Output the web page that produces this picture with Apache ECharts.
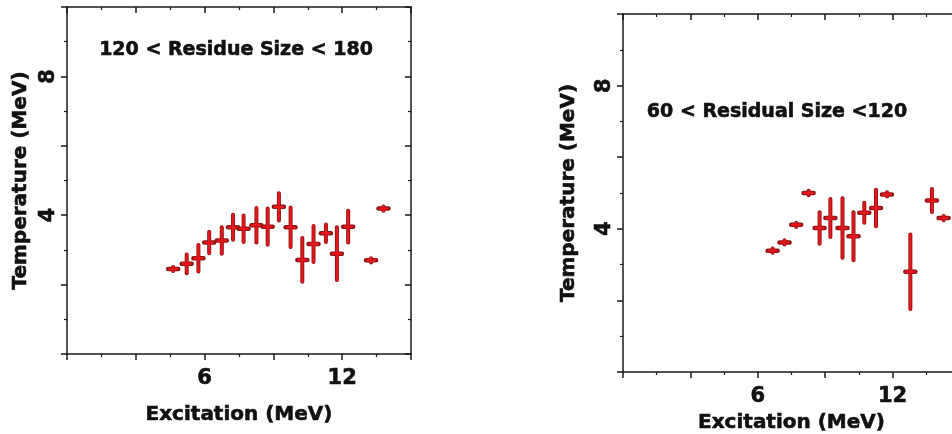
<!DOCTYPE html>
<html lang="en">
<head>
<meta charset="UTF-8">
<title>Temperature vs Excitation</title>
<script src="https://cdn.jsdelivr.net/npm/echarts@6/dist/echarts.min.js"></script>
<style>html,body{margin:0;padding:0;background:#fff;}</style>
</head>
<body>
<div id="main" style="width:952px;height:434px;"></div>
<script>
// 120 < Residue Size < 180
var leftX   = [4.63, 5.22, 5.73, 6.20, 6.75, 7.24, 7.70, 8.26, 8.75, 9.24, 9.75, 10.26, 10.75, 11.29, 11.77, 12.26, 13.26, 13.80];
var leftY   = [2.45, 2.60, 2.76, 3.21, 3.27, 3.65, 3.61, 3.71, 3.67, 4.24, 3.65, 2.71, 3.17, 3.48, 2.89, 3.67, 2.70, 4.19];
var leftErr = [0.06, 0.27, 0.38, 0.31, 0.38, 0.36, 0.38, 0.50, 0.52, 0.39, 0.57, 0.63, 0.52, 0.25, 0.76, 0.46, 0.06, 0.06];

// 60 < Residual Size <120
var rightX   = [6.66, 7.19, 7.71, 8.26, 8.75, 9.23, 9.77, 10.26, 10.74, 11.26, 11.75, 12.79, 13.75, 14.27];
var rightY   = [3.39, 3.62, 4.11, 5.00, 4.02, 4.30, 4.02, 3.79, 4.45, 4.58, 4.96, 2.80, 4.79, 4.30];
var rightErr = [0.06, 0.06, 0.06, 0.06, 0.44, 0.53, 0.83, 0.67, 0.28, 0.51, 0.06, 1.04, 0.32, 0.06];

var xLabels = ['6', '12'];
var yLabels = ['4', '8'];

var myChart = echarts.init(document.getElementById('main'));
var font = "'DejaVu Sans', Arial, sans-serif";
var lineColor = '#1a1a1a';

function pack(xs, ys, es) {
    return xs.map(function (x, i) { return [x, ys[i], es[i]]; });
}

// 误差棒：深色描边 + 红色芯
function renderErr(params, api) {
    var x = api.value(0), y = api.value(1), e = api.value(2);
    var c = api.coord([x, y]);
    var lo = api.coord([x, y - e]);
    var hi = api.coord([x, y + e]);
    var hw = 5;
    var seg = function (x1, y1, x2, y2, w, col) {
        return { type: 'line', shape: { x1: x1, y1: y1, x2: x2, y2: y2 },
                 style: { stroke: col, lineWidth: w, lineCap: 'round' } };
    };
    return {
        type: 'group',
        children: [
            seg(lo[0], lo[1], hi[0], hi[1], 4, '#8a1414'),
            seg(c[0] - hw, c[1], c[0] + hw, c[1], 4.5, '#8a1414'),
            seg(lo[0], lo[1], hi[0], hi[1], 2.4, '#e8161b'),
            seg(c[0] - hw + 1, c[1], c[0] + hw - 1, c[1], 2.4, '#e8161b')
        ]
    };
}

var boldText = { fontFamily: font, fontWeight: 'bold', color: '#111',
                 textBorderColor: '#111', textBorderWidth: 0.6 };

function xAxes(g, gap) {
    return [{
        gridIndex: g, type: 'value', position: 'bottom', min: 0, max: 15, interval: 3,
        name: 'Excitation (MeV)', nameLocation: 'middle', nameGap: gap,
        nameTextStyle: Object.assign({ fontSize: 20 }, boldText),
        axisLine: { onZero: false, lineStyle: { color: lineColor, width: 1.5 } },
        axisTick: { inside: false, length: 6, lineStyle: { color: lineColor, width: 1.5 } },
        minorTick: { show: true, splitNumber: 2, length: 3, lineStyle: { color: lineColor, width: 1.2 } },
        splitLine: { show: false },
        axisLabel: Object.assign({ margin: 14, fontSize: 21,
            formatter: function (v) { return xLabels.indexOf(String(v)) >= 0 ? String(v) : ''; } }, boldText)
    }, {
        gridIndex: g, type: 'value', position: 'top', min: 0, max: 15, interval: 3,
        axisLine: { onZero: false, lineStyle: { color: lineColor, width: 1.5 } },
        axisTick: { inside: true, length: 6, lineStyle: { color: lineColor, width: 1.5 } },
        minorTick: { show: true, splitNumber: 2, length: 3, lineStyle: { color: lineColor, width: 1.2 } },
        splitLine: { show: false },
        axisLabel: { show: false }
    }];
}

function yAxes(g, gap) {
    return [{
        gridIndex: g, type: 'value', position: 'left', min: 0, max: 10, interval: 2,
        name: 'Temperature (MeV)', nameLocation: 'middle', nameGap: gap, nameRotate: 90,
        nameTextStyle: Object.assign({ fontSize: 20 }, boldText),
        axisLine: { onZero: false, lineStyle: { color: lineColor, width: 1.5 } },
        axisTick: { inside: false, length: 6, lineStyle: { color: lineColor, width: 1.5 } },
        minorTick: { show: true, splitNumber: 2, length: 3, lineStyle: { color: lineColor, width: 1.2 } },
        splitLine: { show: false },
        axisLabel: Object.assign({ margin: 8, rotate: 90, fontSize: 21,
            formatter: function (v) { return yLabels.indexOf(String(v)) >= 0 ? String(v) : ''; } }, boldText)
    }, {
        gridIndex: g, type: 'value', position: 'right', min: 0, max: 10, interval: 2,
        axisLine: { onZero: false, lineStyle: { color: lineColor, width: 1.5 } },
        axisTick: { inside: true, length: 6, lineStyle: { color: lineColor, width: 1.5 } },
        minorTick: { show: true, splitNumber: 2, length: 3, lineStyle: { color: lineColor, width: 1.2 } },
        splitLine: { show: false },
        axisLabel: { show: false }
    }];
}

var noteStyle = function (txt) {
    return { text: txt, fontFamily: font, fontWeight: 'bold', fontSize: 19, fill: '#111',
             stroke: '#111', lineWidth: 0.6,
             textAlign: 'center', textVerticalAlign: 'middle' };
};

var option = {
    animation: false,
    backgroundColor: '#fff',
    grid: [
        { left: 67, top: 7, width: 344, height: 347, outerBoundsMode: 'none' },
        { left: 623, top: 14, width: 337, height: 358, outerBoundsMode: 'none' }
    ],
    xAxis: xAxes(0, 51).concat(xAxes(1, 35)),
    yAxis: yAxes(0, 36).concat(yAxes(1, 44)),
    graphic: [
        { type: 'text', x: 236, y: 50, style: noteStyle('120 < Residue Size < 180') },
        { type: 'text', x: 777, y: 112, style: noteStyle('60 < Residual Size <120') }
    ],
    series: [
        { type: 'custom', xAxisIndex: 0, yAxisIndex: 0, renderItem: renderErr,
          data: pack(leftX, leftY, leftErr) },
        { type: 'custom', xAxisIndex: 2, yAxisIndex: 2, renderItem: renderErr,
          data: pack(rightX, rightY, rightErr) }
    ]
};
myChart.setOption(option);
</script>
</body>
</html>
